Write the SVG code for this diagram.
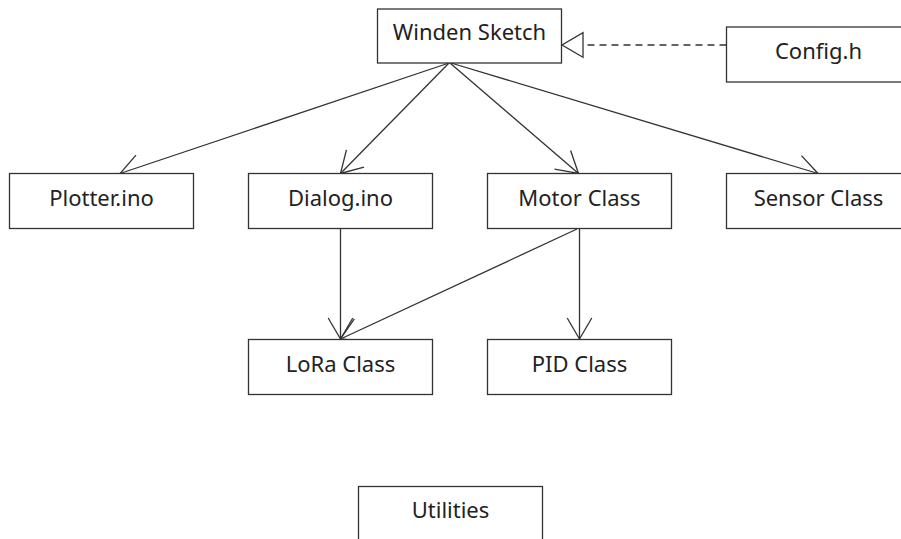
<svg xmlns="http://www.w3.org/2000/svg" width="901" height="539" viewBox="0 0 901 539">
  <style>
    .box rect { fill: #ffffff; stroke: #333333; stroke-width: 1.3; }
    .box text { font-family: "Noto Sans", "Open Sans", sans-serif; font-size: 22px; fill: #222222; text-anchor: middle; }
    .edge { fill: none; stroke: #333333; stroke-width: 1.3; }
    .dep { stroke-dasharray: 7 5; }
  </style>
  <defs>
    <marker id="open" viewBox="-26 -14 28 28" markerWidth="28" markerHeight="28" refX="0" refY="0" orient="auto" markerUnits="userSpaceOnUse">
      <path d="M -21 -12.3 L 0 0 L -21 12.3" fill="none" stroke="#333333" stroke-width="1.3"/>
    </marker>
    <marker id="realize" viewBox="-26 -14 28 28" markerWidth="28" markerHeight="28" refX="0" refY="0" orient="auto" markerUnits="userSpaceOnUse">
      <path d="M -21 -12.3 L 0 0 L -21 12.3 Z" fill="#ffffff" stroke="#333333" stroke-width="1.3"/>
    </marker>
  </defs>

  <g id="connectors">
    <line class="edge" x1="449" y1="63" x2="120" y2="173.5" marker-end="url(#open)"/>
    <line class="edge" x1="449" y1="63" x2="340.5" y2="173.5" marker-end="url(#open)"/>
    <line class="edge" x1="450" y1="63" x2="578.5" y2="173.5" marker-end="url(#open)"/>
    <line class="edge" x1="451" y1="63" x2="818" y2="173.5" marker-end="url(#open)"/>
    <line class="edge" x1="340.5" y1="229" x2="340.5" y2="339" marker-end="url(#open)"/>
    <line class="edge" x1="577" y1="229" x2="340.5" y2="339" marker-end="url(#open)"/>
    <line class="edge" x1="579.5" y1="229" x2="579.5" y2="339" marker-end="url(#open)"/>
    <line class="edge dep" x1="726.5" y1="45" x2="562" y2="45" marker-end="url(#realize)"/>
  </g>

  <g id="winden-sketch" class="box">
    <rect x="377.5" y="9" width="184" height="54"/>
    <text x="469.5" y="40">Winden Sketch</text>
  </g>
  <g id="config-h" class="box">
    <rect x="726.5" y="27" width="184" height="55"/>
    <text x="818.5" y="59">Config.h</text>
  </g>
  <g id="plotter-ino" class="box">
    <rect x="9.5" y="173.5" width="184" height="55"/>
    <text x="101.5" y="205.5">Plotter.ino</text>
  </g>
  <g id="dialog-ino" class="box">
    <rect x="248.5" y="173.5" width="184" height="55"/>
    <text x="340.5" y="205.5">Dialog.ino</text>
  </g>
  <g id="motor-class" class="box">
    <rect x="487.5" y="173.5" width="184" height="55"/>
    <text x="579.5" y="205.5">Motor Class</text>
  </g>
  <g id="sensor-class" class="box">
    <rect x="726.5" y="173.5" width="184" height="55"/>
    <text x="818.5" y="205.5">Sensor Class</text>
  </g>
  <g id="lora-class" class="box">
    <rect x="248.5" y="339.5" width="184" height="55"/>
    <text x="340.5" y="371.5">LoRa Class</text>
  </g>
  <g id="pid-class" class="box">
    <rect x="487.5" y="339.5" width="184" height="55"/>
    <text x="579.5" y="371.5">PID Class</text>
  </g>
  <g id="utilities" class="box">
    <rect x="358.5" y="486.5" width="184" height="55"/>
    <text x="450.5" y="518">Utilities</text>
  </g>
</svg>
